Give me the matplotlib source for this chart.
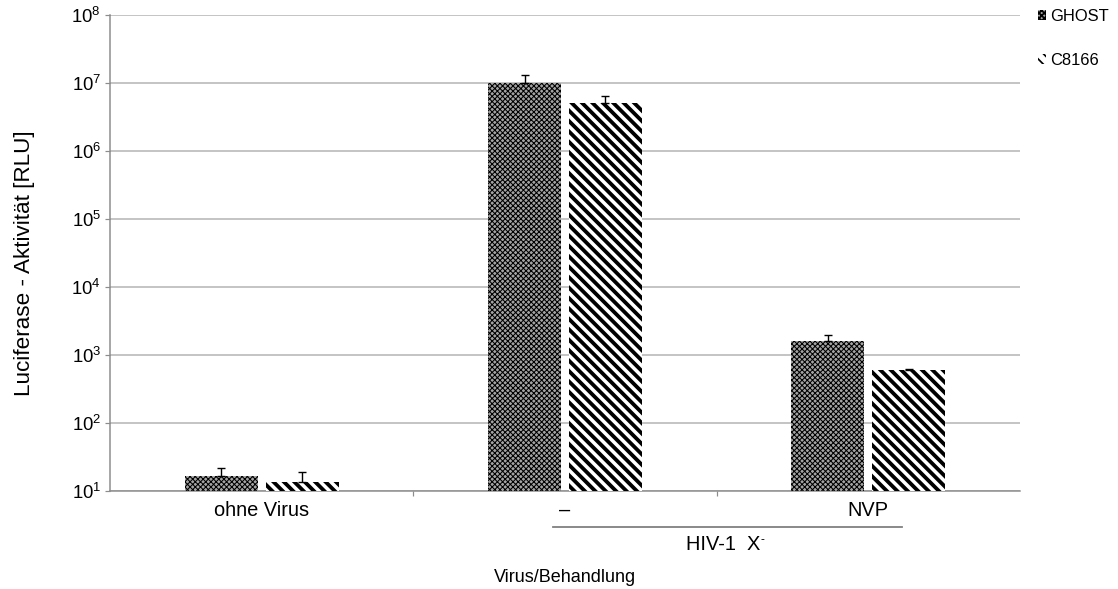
import matplotlib
matplotlib.use("Agg")
import matplotlib.pyplot as plt
from matplotlib.transforms import blended_transform_factory
import numpy as np

# --- data -------------------------------------------------------------
categories = ["ohne Virus", "\u2013", "NVP"]
series_names = ["GHOST", "C8166"]
ghost_values = [16.6, 1.0e7, 1600]
ghost_upper = [22, 1.3e7, 1960]
c8166_values = [13.5, 5.1e6, 600]
c8166_upper = [19, 6.4e6, 620]
group_label = "HIV-1  X"
x_label = "Virus/Behandlung"
y_label = "Luciferase - Aktivit\u00e4t [RLU]"

DPI = 125
W, H = 1118, 589

plt.rcParams["font.family"] = ["Liberation Sans", "DejaVu Sans"]
plt.rcParams["mathtext.fontset"] = "custom"
plt.rcParams["mathtext.rm"] = "Liberation Sans"
plt.rcParams["mathtext.default"] = "regular"

BACKSLASH = chr(92)


def px(v):
    """pixels -> points at the figure dpi"""
    return v * 72.0 / DPI


fig = plt.figure(figsize=(W / DPI, H / DPI), dpi=DPI)
left, right, top, bottom = 110, 1020, 15, 491
ax = fig.add_axes([left / W, 1 - bottom / H, (right - left) / W, (bottom - top) / H])

x = np.arange(len(categories))
width = 0.24
offset = 0.1335
ymin = 10

with plt.rc_context({"hatch.linewidth": 0.6}):
    b1 = ax.bar(x - offset, np.array(ghost_values) - ymin, width, bottom=ymin,
                facecolor="#a4a4a4", edgecolor="black", linewidth=0,
                hatch="x" * 8, label=series_names[0], zorder=3)
with plt.rc_context({"hatch.linewidth": 2.2}):
    b2 = ax.bar(x + offset, np.array(c8166_values) - ymin, width, bottom=ymin,
                facecolor="white", edgecolor="black", linewidth=0,
                hatch=BACKSLASH * 4, label=series_names[1], zorder=3)

# upper error bars only
for xs, vals, ups in ((x - offset, ghost_values, ghost_upper),
                      (x + offset, c8166_values, c8166_upper)):
    vals = np.array(vals, dtype=float)
    ups = np.array(ups, dtype=float)
    ax.errorbar(xs, vals, yerr=[np.zeros_like(vals), ups - vals], fmt="none",
                ecolor="black", elinewidth=0.8, capsize=px(4), capthick=0.8, zorder=4)

ax.set_yscale("log")
ax.set_ylim(10, 1e8)
ax.set_xlim(-0.5, 2.5)
ax.set_yticks([10 ** k for k in range(1, 9)])
ax.yaxis.set_minor_locator(matplotlib.ticker.NullLocator())
ax.grid(axis="y", color="#b3b3b3", linewidth=px(1.5), zorder=0)

grey = "#8c8c8c"
for s in ("top", "right"):
    ax.spines[s].set_visible(False)
for s in ("left", "bottom"):
    ax.spines[s].set_color(grey)
    ax.spines[s].set_linewidth(px(1.5))

ax.tick_params(axis="y", direction="out", length=px(5), width=px(1.2), color=grey,
               labelsize=px(18.5), pad=px(4))
ax.set_xticks(x)
ax.set_xticklabels(categories, fontsize=px(20))
ax.tick_params(axis="x", which="major", length=0, pad=px(10))
ax.set_xticks([0.5, 1.5], minor=True)
ax.tick_params(axis="x", which="minor", direction="out", length=px(5),
               width=px(1.2), color=grey)

# bracket grouping the infected samples
tr = blended_transform_factory(ax.transData, ax.transAxes)
ax.plot([0.96, 2.11], [-0.0756, -0.0756], transform=tr, color="#808080",
        linewidth=px(1.8), clip_on=False)
grp = ax.text(1.52, -0.113, group_label, transform=tr, ha="center", va="center",
              fontsize=px(20))
# small raised hyphen after the group name
ax.annotate("-", xy=(1.0, 1.0), xycoords=grp, xytext=(px(1), px(1)),
            textcoords="offset points", ha="left", va="top", fontsize=px(12))

fig.text(0.5 * (left + right) / W, 1 - 577 / H, x_label, ha="center", va="center",
         fontsize=px(18))
fig.text(25 / W, 1 - 263 / H, y_label, rotation=90, ha="center", va="center",
         fontsize=px(22.5))

leg = fig.legend(handles=[b1, b2], labels=series_names, loc="upper left",
                 bbox_to_anchor=(1038 / W, 1 - 9 / H), frameon=False,
                 fontsize=px(16.5), handlelength=0.5, handleheight=0.5,
                 handletextpad=0.25, labelspacing=1.75, borderaxespad=0,
                 borderpad=0)

fig.savefig("out.png", dpi=DPI)
